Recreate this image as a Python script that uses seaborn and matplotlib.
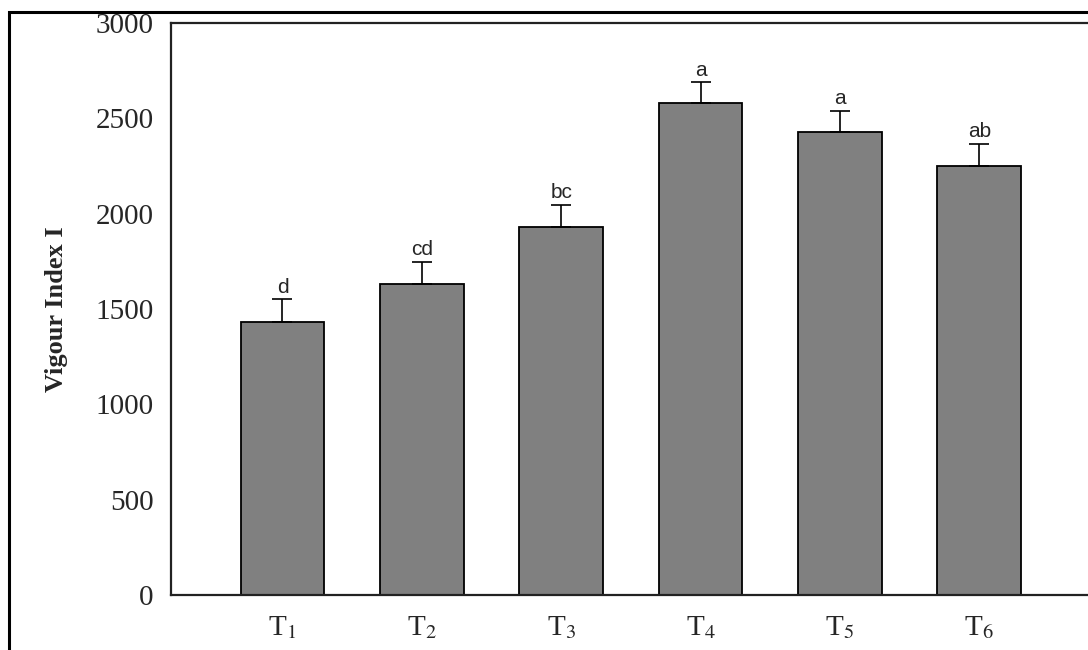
import numpy as np
import pandas as pd
import seaborn as sns
import matplotlib.pyplot as plt
from matplotlib.patches import Rectangle

# ---------------------------------------------
# Data
# ---------------------------------------------
treatments = ['T1', 'T2', 'T3', 'T4', 'T5', 'T6']
tick_labels = [r'T$_{1}$', r'T$_{2}$', r'T$_{3}$', r'T$_{4}$', r'T$_{5}$', r'T$_{6}$']
vigour = [1432, 1631, 1930, 2580, 2428, 2250]
se = [118, 115, 115, 108, 112, 115]
letters = ['d', 'cd', 'bc', 'a', 'a', 'ab']

df = pd.DataFrame({'Treatment': treatments, 'Vigour': vigour})

sns.set_style('white')
plt.rcParams['mathtext.fontset'] = 'stix'

fig = plt.figure(figsize=(10.88, 6.5), dpi=100)
ax = fig.add_axes([171 / 1088, 55 / 650, 1 - 171 / 1088, 572 / 650])

sns.barplot(data=df, x='Treatment', y='Vigour', color='#808080',
            saturation=1, width=0.6, edgecolor='black', linewidth=1.3,
            errorbar=None, ax=ax)

# upward-only error bars
x = np.arange(len(treatments))
ax.errorbar(x, vigour, yerr=[np.zeros(len(se)), se], fmt='none',
            ecolor='black', elinewidth=1.2, capsize=7, capthick=1.2)

# significance letters
for xi, v, e, lab in zip(x, vigour, se, letters):
    ax.text(xi, v + e + 15, lab, ha='center', va='bottom',
            fontsize=15, family='Liberation Sans')

ax.set_xlim(-0.8, 5.78)
ax.set_ylim(0, 3000)
ax.set_yticks(range(0, 3001, 500))
ax.set_xticks(x)
ax.set_xticklabels(tick_labels, fontsize=21, family='Liberation Serif')
for t in ax.get_yticklabels():
    t.set_fontsize(21)
    t.set_family('Liberation Serif')
ax.tick_params(axis='y', length=0, pad=12.5)
ax.tick_params(axis='x', length=0, pad=14)

ax.set_xlabel('')
ax.set_ylabel('Vigour Index I', fontsize=19, fontweight='bold',
              family='Liberation Serif', labelpad=20)

for s in ['left', 'top', 'bottom']:
    ax.spines[s].set_color('#222222')
    ax.spines[s].set_linewidth(1.6)
ax.spines['right'].set_visible(False)

# outer frame (cropped on the right and bottom)
fig.patches.append(Rectangle((9 / 1088, -0.1), 1.2, 1.1 - 12 / 650,
                             transform=fig.transFigure, fill=False,
                             edgecolor='black', linewidth=2.2))

fig.savefig('out.png', dpi=100)
